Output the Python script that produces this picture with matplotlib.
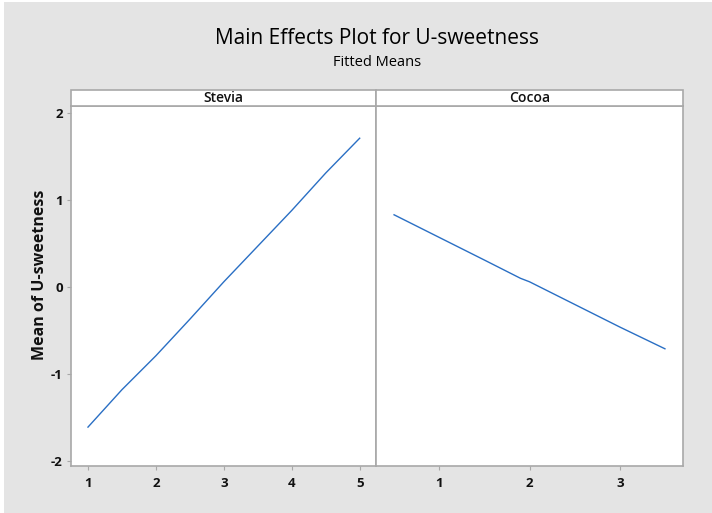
import matplotlib
matplotlib.use('Agg')
import matplotlib.pyplot as plt
from matplotlib.patches import Rectangle

plt.rcParams['font.family'] = ['Open Sans', 'DejaVu Sans']
plt.rcParams['axes.unicode_minus'] = False

# fitted means per factor level
stevia_x = [1, 1.5, 2, 2.5, 3, 3.5, 4, 4.5, 5]
stevia_y = [-1.61, -1.18, -0.79, -0.37, 0.06, 0.47, 0.88, 1.31, 1.71]
cocoa_x = [0.5, 1, 1.5, 1.9, 2, 2.5, 3, 3.5]
cocoa_y = [0.83, 0.57, 0.31, 0.10, 0.06, -0.20, -0.46, -0.71]

stevia_ticks = [1, 2, 3, 4, 5]
cocoa_ticks = [1, 2, 3]
y_ticks = [-2, -1, 0, 1, 2]

line_col = '#2a6fc4'
edge_col = '#a8a8a8'
W, H = 712, 513

fig = plt.figure(figsize=(7.12, 5.13), dpi=100, facecolor='white')
fig.patches.append(Rectangle((4 / W, 0), 1, 1 - 2 / H, transform=fig.transFigure,
                             facecolor='#e4e4e4', edgecolor='none', zorder=-10))

bot = (H - 466) / H
top = (H - 106) / H
ax1 = fig.add_axes([71 / W, bot, 305 / W, top - bot])
ax2 = fig.add_axes([376 / W, bot, 307 / W, top - bot])

ax1.plot(stevia_x, stevia_y, color=line_col, lw=1.0)
ax2.plot(cocoa_x, cocoa_y, color=line_col, lw=1.0)

ax1.set_xlim(0.75, 5.24)
ax2.set_xlim(0.3, 3.7)
for ax in (ax1, ax2):
    ax.set_ylim(-2.057, 2.08)
    ax.set_facecolor('white')
    for s in ax.spines.values():
        s.set_color(edge_col)
        s.set_linewidth(1.2)
    ax.tick_params(length=3, width=0.8, color=edge_col, labelsize=9.5,
                   labelcolor='#111111', pad=5)

ax1.set_xticks(stevia_ticks)
ax1.set_xticklabels([str(t) for t in stevia_ticks], fontweight='bold')
ax2.set_xticks(cocoa_ticks)
ax2.set_xticklabels([str(t) for t in cocoa_ticks], fontweight='bold')
ax1.set_yticks(y_ticks)
ax1.set_yticklabels([str(t) for t in y_ticks], fontweight='bold')
ax2.set_yticks([])
ax1.tick_params(axis='y', pad=3)

# strip headers above each panel
for x0, w, name in [(71, 305, 'Stevia'), (376, 307, 'Cocoa')]:
    fig.patches.append(Rectangle((x0 / W, top), w / W, 16 / H, transform=fig.transFigure,
                                 facecolor='white', edgecolor=edge_col, lw=1.2))
    fig.text((x0 + w / 2) / W, top + 8 / H, name, ha='center', va='center',
             fontsize=10, fontweight='semibold', color='#111111')

fig.text(377 / W, 1 - 38 / H, 'Main Effects Plot for U-sweetness', ha='center',
         va='center', fontsize=15, fontweight='medium', color='#000000')
fig.text(377 / W, 1 - 62 / H, 'Fitted Means', ha='center', va='center',
         fontsize=10.5, fontweight='medium', color='#000000')
fig.text(40 / W, 1 - 275 / H, 'Mean of U-sweetness', rotation=90, ha='center',
         va='center', fontsize=11.5, fontweight='bold', color='#111111')

fig.savefig('out.png', dpi=100, facecolor=fig.get_facecolor())
